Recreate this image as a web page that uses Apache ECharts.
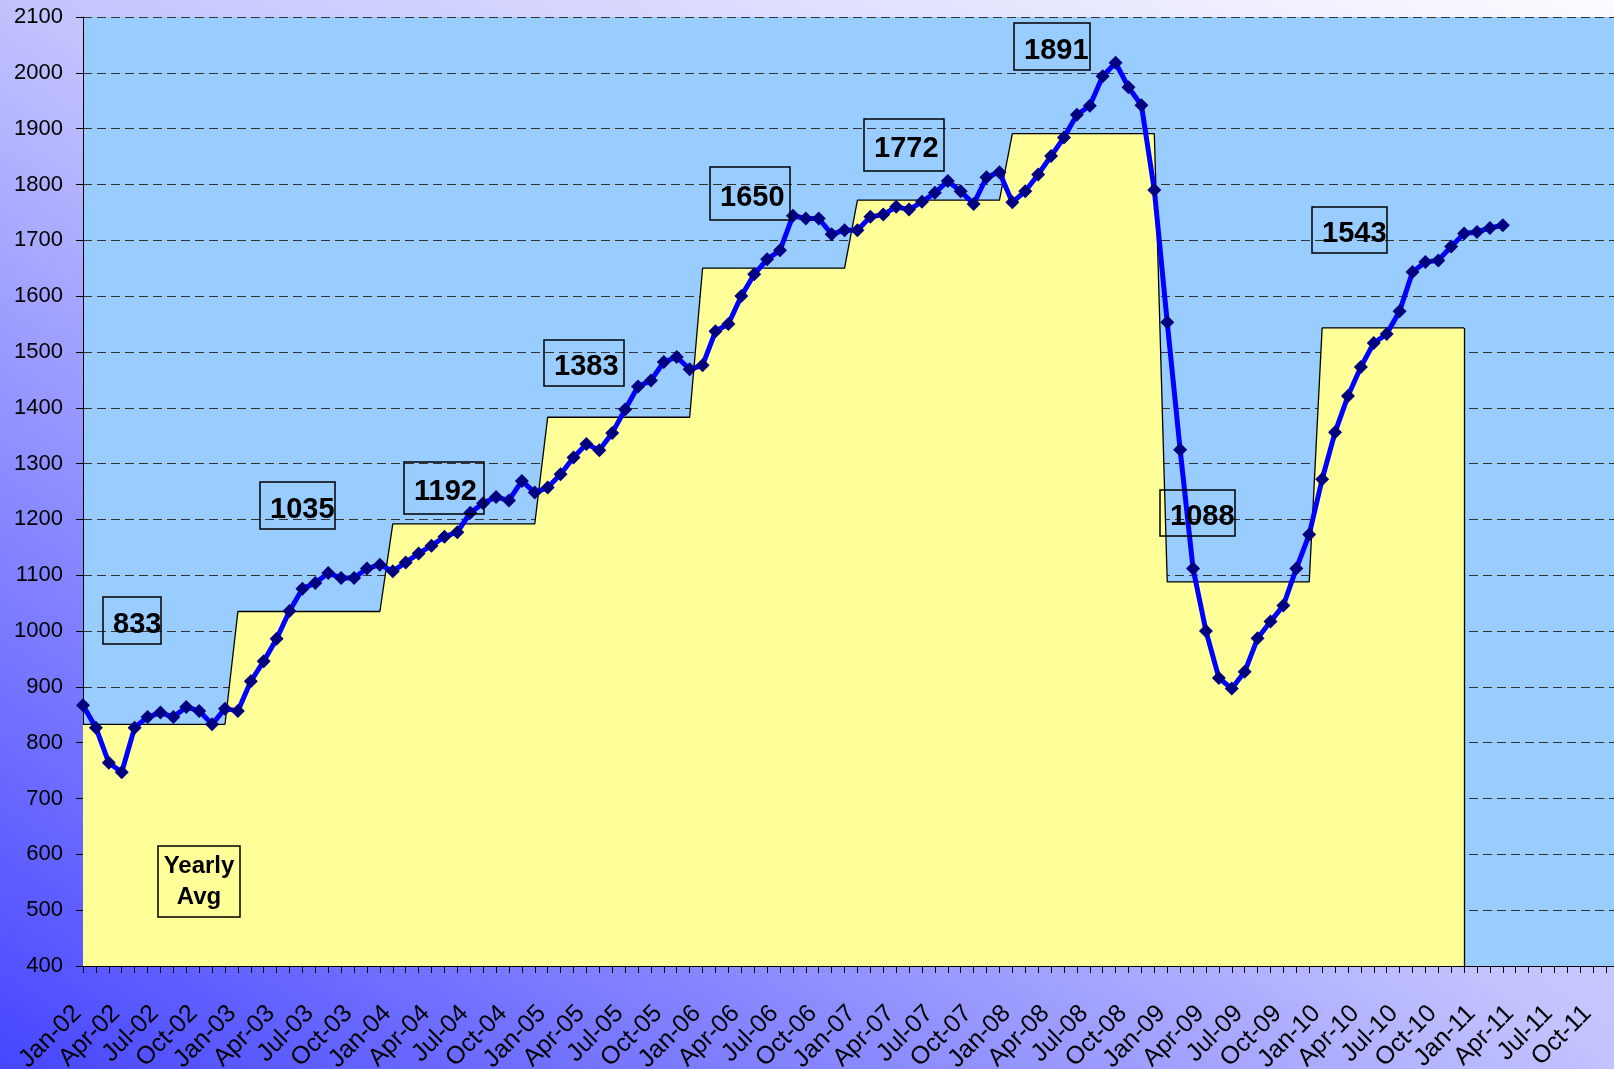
<!DOCTYPE html>
<html>
<head>
<meta charset="utf-8">
<title>Monthly vs yearly average</title>
<script src="https://cdn.jsdelivr.net/npm/echarts@6/dist/echarts.min.js"></script>
<style>
  html, body { margin: 0; padding: 0; }
  #chart { width: 1614px; height: 1069px; }
</style>
</head>
<body>
<div id="chart"></div>
<script>
var FONT = '"Liberation Sans", Arial, sans-serif';

// tick labels: Jan-02 ... Dec-11
var monthNames = ['Jan', 'Feb', 'Mar', 'Apr', 'May', 'Jun', 'Jul', 'Aug', 'Sep', 'Oct', 'Nov', 'Dec'];
var years = ['02', '03', '04', '05', '06', '07', '08', '09', '10', '11'];

// monthly values, Jan-02 .. Mar-11
var monthly = [
  867, 827, 764, 747, 827, 846, 854, 846, 864, 857, 833, 861,
  857, 910, 946, 986, 1036, 1076, 1086, 1104, 1095, 1095, 1112, 1119,
  1107, 1123, 1139, 1153, 1169, 1177, 1212, 1229, 1240, 1234, 1269, 1248,
  1257, 1281, 1311, 1335, 1324, 1355, 1397, 1438, 1449, 1482, 1491, 1469,
  1476, 1537, 1550, 1600, 1639, 1666, 1682, 1744, 1739, 1739, 1711, 1718,
  1718, 1742, 1746, 1760, 1755, 1769, 1785, 1806, 1788, 1765, 1813, 1822,
  1768, 1788, 1818, 1851, 1884, 1925, 1941, 1994, 2018, 1974, 1942, 1790,
  1553, 1325, 1112, 1000, 916, 897, 927, 987, 1017, 1046, 1112, 1173,
  1272, 1356, 1421, 1473, 1516, 1532, 1573, 1643, 1661, 1664, 1689, 1712,
  1715, 1722, 1727
];

// yearly averages 2002 .. 2010
var yearlyAvg = [833, 1035, 1192, 1383, 1650, 1772, 1891, 1088, 1543];

// annotation boxes (left, top, width, height) in px
var boxPos = [
  [103, 597, 58, 47], [260, 482, 75, 47], [404, 462, 80, 52],
  [544, 340, 80, 46], [710, 167, 80, 53], [864, 119, 80, 52],
  [1014, 23, 76, 47], [1160, 490, 75, 46], [1312, 207, 75, 46]
];

var months = [];
years.forEach(function (y) {
  monthNames.forEach(function (m) { months.push(m + '-' + y); });
});

var yearlyLine = [];
yearlyAvg.forEach(function (v) {
  for (var k = 0; k < 12; k++) yearlyLine.push(v);
});
var lastAvgMonth = months[yearlyLine.length - 1];

var graphics = [];
yearlyAvg.forEach(function (v, i) {
  var b = boxPos[i];
  graphics.push({
    type: 'rect',
    shape: { x: b[0], y: b[1], width: b[2], height: b[3] },
    style: { fill: 'transparent', stroke: '#000', lineWidth: 1.5 },
    z: 100
  });
  graphics.push({
    type: 'text',
    x: b[0] + 10,
    y: b[1] + b[3] / 2 + 4,
    style: {
      text: String(v),
      font: 'bold 29px ' + FONT,
      fill: '#000',
      textAlign: 'left',
      textVerticalAlign: 'middle'
    },
    z: 101
  });
});
graphics.push({
  type: 'rect',
  shape: { x: 158, y: 846, width: 82, height: 71 },
  style: { fill: 'transparent', stroke: '#000', lineWidth: 1.5 },
  z: 100
});
graphics.push({
  type: 'text',
  x: 199,
  y: 882,
  style: {
    text: 'Yearly\nAvg',
    font: 'bold 24px ' + FONT,
    lineHeight: 31,
    fill: '#000',
    textAlign: 'center',
    textVerticalAlign: 'middle'
  },
  z: 101
});

var chart = echarts.init(document.getElementById('chart'), null, { renderer: 'canvas' });

var option = {
  animation: false,
  backgroundColor: {
    type: 'linear', x: 0, y: 1, x2: 0.61, y2: -0.39,
    colorStops: [
      { offset: 0, color: '#4646ff' },
      { offset: 0.5, color: '#c2c2ff' },
      { offset: 1, color: '#fcfcff' }
    ]
  },
  grid: {
    left: 83, top: 17, bottom: 103, width: 1536,
    outerBoundsMode: 'none',
    containLabel: false,
    show: true, backgroundColor: '#99ccff', borderWidth: 0
  },
  xAxis: {
    type: 'category',
    data: months,
    boundaryGap: false,
    axisLine: { lineStyle: { color: '#000', width: 1 } },
    axisTick: { show: true, interval: 0, length: 7, lineStyle: { color: '#000' } },
    axisLabel: {
      interval: 2, rotate: 45, fontSize: 25, color: '#000', margin: 38,
      padding: [0, 8, 0, 0], fontFamily: FONT
    },
    splitLine: { show: false }
  },
  yAxis: {
    type: 'value',
    min: 400, max: 2100, interval: 100,
    axisLine: { show: true, lineStyle: { color: '#000', width: 1 } },
    axisTick: { show: true, length: 7, lineStyle: { color: '#000' } },
    axisLabel: {
      fontSize: 22, color: '#000', margin: 20, fontFamily: FONT,
      formatter: function (v) { return String(v); }
    },
    splitLine: { show: true, lineStyle: { type: [9, 5], color: '#333', width: 1 } }
  },
  series: [
    {
      name: 'Yearly Avg',
      type: 'line',
      data: yearlyLine,
      symbol: 'none',
      lineStyle: { color: '#000', width: 1.3 },
      areaStyle: { color: '#ffff99', opacity: 1 },
      markLine: {
        silent: true,
        symbol: 'none',
        label: { show: false },
        lineStyle: { color: '#000', width: 1.3, type: 'solid' },
        data: [[{ coord: [lastAvgMonth, 400] }, { coord: [lastAvgMonth, yearlyAvg[yearlyAvg.length - 1]] }]]
      },
      z: 2
    },
    {
      name: 'Monthly',
      type: 'line',
      data: monthly,
      symbol: 'diamond',
      symbolSize: 14,
      showAllSymbol: true,
      lineStyle: { color: '#0000ff', width: 5 },
      itemStyle: { color: '#000080' },
      z: 3
    }
  ],
  graphic: graphics
};

chart.setOption(option);
</script>
</body>
</html>
